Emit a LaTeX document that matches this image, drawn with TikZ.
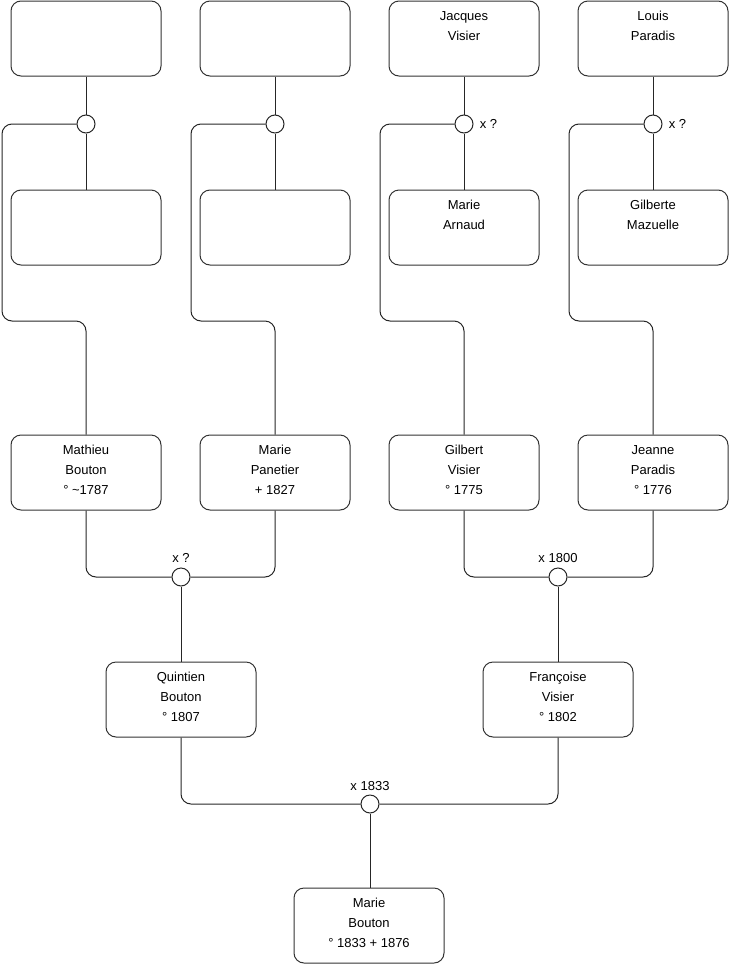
\documentclass[tikz,border=0pt]{standalone}
\usepackage{fontspec}
\setmainfont{Liberation Sans}
\begin{document}
\begin{tikzpicture}[x=0.75pt,y=-0.75pt,
  person/.style={draw=black!80, line width=0.75pt, rounded corners=7.5pt,
    minimum width=112.5pt, minimum height=56.25pt, inner sep=0pt},
  txt/.style={anchor=north, align=center, inner sep=0pt, yshift=-8.0pt,
    font=\fontsize{9.75}{15}\selectfont},
  knot/.style={draw=black!85, line width=0.75pt, circle, minimum size=13.5pt, inner sep=0pt, fill=white},
  lnk/.style={draw=black!85, line width=0.75pt, rounded corners=7.5pt},
  mlbl/.style={font=\fontsize{9.75}{11}\selectfont, inner sep=1pt}]
\useasboundingbox (0,0) rectangle (740,975);
% top row
\node[person] (t1) at (86,38.5) {};
\node[person] (t2) at (275,38.5) {};
\node[person, label={[txt]north:Jacques\\Visier}] (t3) at (464,38.5) {};
\node[person, label={[txt]north:Louis\\Paradis}] (t4) at (653,38.5) {};
% second row
\node[person] (m1) at (86,227.5) {};
\node[person] (m2) at (275,227.5) {};
\node[person, label={[txt]north:Marie\\Arnaud}] (m3) at (464,227.5) {};
\node[person, label={[txt]north:Gilberte\\Mazuelle}] (m4) at (653,227.5) {};
% third row
\node[person, label={[txt]north:Mathieu\\Bouton\\° \textasciitilde1787}] (r1) at (86,472.5) {};
\node[person, label={[txt]north:Marie\\Panetier\\+ 1827}] (r2) at (275,472.5) {};
\node[person, label={[txt]north:Gilbert\\Visier\\° 1775}] (r3) at (464,472.5) {};
\node[person, label={[txt]north:Jeanne\\Paradis\\° 1776}] (r4) at (653,472.5) {};
% fourth row
\node[person, label={[txt]north:Quintien\\Bouton\\° 1807}] (q1) at (181,699.5) {};
\node[person, label={[txt]north:Françoise\\Visier\\° 1802}] (q2) at (558,699.5) {};
% fifth row
\node[person, label={[txt]north:Marie\\Bouton\\° 1833 + 1876}] (b1) at (369,925.5) {};
% rails
\coordinate (k1) at (2,321);
\coordinate (k2) at (191,321);
\coordinate (k3) at (380,321);
\coordinate (k4) at (569,321);
% top unions
\node[knot] (c1) at (86,124) {};
\node[knot] (c2) at (275,124) {};
\node[knot, label={[mlbl,xshift=3.5pt]right:x ?}] (c3) at (464,124) {};
\node[knot, label={[mlbl,xshift=3.5pt]right:x ?}] (c4) at (653,124) {};
\foreach \i in {1,2,3,4}{
  \draw[lnk] (t\i.south) -- (c\i.north);
  \draw[lnk] (c\i.south) -- (m\i.north);
  \draw[lnk] (c\i.west) -| (k\i) -| (r\i.north);
}
% third-row unions
\node[knot, label={[mlbl,yshift=2.5pt]above:x ?}] (d1) at (181,577) {};
\node[knot, label={[mlbl,yshift=2.5pt]above:x 1800}] (d2) at (558,577) {};
\draw[lnk] (r1.south) |- (d1.west);
\draw[lnk] (r2.south) |- (d1.east);
\draw[lnk] (r3.south) |- (d2.west);
\draw[lnk] (r4.south) |- (d2.east);
\draw[lnk] (d1.south) -- (q1.north);
\draw[lnk] (d2.south) -- (q2.north);
% last union
\node[knot, label={[mlbl,yshift=2.0pt]above:x 1833}] (e1) at (370,804) {};
\draw[lnk] (q1.south) |- (e1.west);
\draw[lnk] (q2.south) |- (e1.east);
\draw[lnk] (e1.south) -- (e1.south |- b1.north);
\end{tikzpicture}
\end{document}
